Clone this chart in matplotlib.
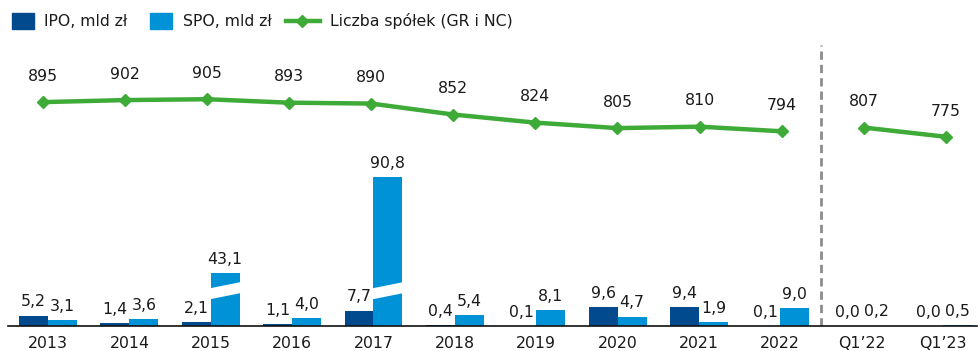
import numpy as np
import matplotlib
matplotlib.use("Agg")
import matplotlib.pyplot as plt
from matplotlib.patches import Polygon, Rectangle
from matplotlib.lines import Line2D

plt.rcParams["font.family"] = ["DejaVu Sans"]
plt.rcParams["lines.scale_dashes"] = False

# --- data -------------------------------------------------------------------
periods = ["2013", "2014", "2015", "2016", "2017", "2018", "2019", "2020",
           "2021", "2022", "Q1’22", "Q1’23"]
ipo_bn = [5.2, 1.4, 2.1, 1.1, 7.7, 0.4, 0.1, 9.6, 9.4, 0.1, 0.0, 0.0]
spo_bn = [3.1, 3.6, 43.1, 4.0, 90.8, 5.4, 8.1, 4.7, 1.9, 9.0, 0.2, 0.5]
companies = [895, 902, 905, 893, 890, 852, 824, 805, 810, 794, 807, 775]
n_years = 10  # annual points; the rest are quarterly

# --- style ------------------------------------------------------------------
IPO_COLOR = "#004A8D"
SPO_COLOR = "#0092D6"
LINE_COLOR = "#3EAA37"
TEXT_COLOR = "#1a1a1a"
FS = 11.3

# very tall bars are drawn with a cut-out segment
BREAK_AT = 30.0
BREAK_CUT = 16.5
GAP_LOW, GAP_RISE, GAP_THICK = 13.2, 3.4, 5.5


def fmt(v):
    return f"{v:.1f}".replace(".", ",")


def shown(v):
    return v - BREAK_CUT if v > BREAK_AT else v


W, H = 979, 351
fig = plt.figure(figsize=(W / 100, H / 100), dpi=100)
rect = [8 / W, (H - 326) / H, (977 - 8) / W, (326 - 40) / H]
ax = fig.add_axes(rect)

x = np.arange(len(periods))
bw = 0.356

ax.bar(x - bw / 2, [shown(v) for v in ipo_bn], bw, color=IPO_COLOR, zorder=2)
ax.bar(x + bw / 2, [shown(v) for v in spo_bn], bw, color=SPO_COLOR, zorder=2)

# white slanted gaps on the broken bars
for series, off in ((ipo_bn, -bw / 2), (spo_bn, bw / 2)):
    for xi, v in zip(x, series):
        if v > BREAK_AT:
            x0 = xi + off - bw / 2 - 0.03
            x1 = xi + off + bw / 2 + 0.03
            gap = Polygon([(x0, GAP_LOW), (x1, GAP_LOW + GAP_RISE),
                           (x1, GAP_LOW + GAP_RISE + GAP_THICK),
                           (x0, GAP_LOW + GAP_THICK)],
                          closed=True, facecolor="white", edgecolor="none",
                          zorder=3)
            ax.add_patch(gap)

# value labels above bars
for series, off in ((ipo_bn, -bw / 2), (spo_bn, bw / 2)):
    for xi, v in zip(x, series):
        ax.annotate(fmt(v), (xi + off, shown(v)), xytext=(0, 4.5),
                    textcoords="offset points", ha="center", va="bottom",
                    fontsize=FS, color=TEXT_COLOR, zorder=4)

# separator between annual and quarterly data
sep = Line2D([n_years - 0.5, n_years - 0.5], [0, 140.5], color="#8c8c8c",
             lw=2.0, zorder=1)
sep.set_dashes((6, 3.6))
ax.add_line(sep)

ax.set_xlim(-0.492, 11.418)
ax.set_ylim(0, 143)
ax.set_xticks(x)
ax.set_xticklabels(periods)
ax.tick_params(axis="x", length=0, pad=7, labelsize=FS, colors=TEXT_COLOR)
ax.set_yticks([])
for s in ("top", "left", "right"):
    ax.spines[s].set_visible(False)
ax.spines["bottom"].set_color("#111111")
ax.spines["bottom"].set_linewidth(1.2)

# number of listed companies on its own overlaid scale
ax2 = fig.add_axes(rect, sharex=None)
ax2.patch.set_visible(False)
ax2.set_xlim(-0.423, 11.38)
ax2.set_ylim(120, 1110)
ax2.set_xticks([])
ax2.set_yticks([])
for s in ax2.spines.values():
    s.set_visible(False)
line_kw = dict(color=LINE_COLOR, lw=3.2, marker="D", markersize=6.5,
               solid_capstyle="round", zorder=5)
ax2.plot(x[:n_years], companies[:n_years], **line_kw)
ax2.plot(x[n_years:], companies[n_years:], **line_kw)
for xi, v in zip(x, companies):
    ax2.annotate(str(v), (xi, v), xytext=(0, 18.5), textcoords="offset points",
                 ha="center", va="center", fontsize=FS, color=TEXT_COLOR)

# legend row
ly = 1 - 21 / H
fig.add_artist(Rectangle((12 / W, ly - 8 / H), 22 / W, 16 / H,
                         transform=fig.transFigure, color=IPO_COLOR))
fig.text(44 / W, ly, "IPO, mld zł", va="center", ha="left", fontsize=FS,
         color=TEXT_COLOR)
fig.add_artist(Rectangle((150 / W, ly - 8 / H), 22 / W, 16 / H,
                         transform=fig.transFigure, color=SPO_COLOR))
fig.text(183 / W, ly, "SPO, mld zł", va="center", ha="left", fontsize=FS,
         color=TEXT_COLOR)
fig.add_artist(Line2D([286 / W, 320 / W], [ly, ly], transform=fig.transFigure,
                      color=LINE_COLOR, lw=3.2))
fig.add_artist(Line2D([302 / W], [ly], transform=fig.transFigure,
                      color=LINE_COLOR, marker="D", markersize=6.5))
fig.text(330 / W, ly, "Liczba spółek (GR i NC)", va="center", ha="left",
         fontsize=FS, color=TEXT_COLOR)

fig.savefig("out.png", dpi=100)
